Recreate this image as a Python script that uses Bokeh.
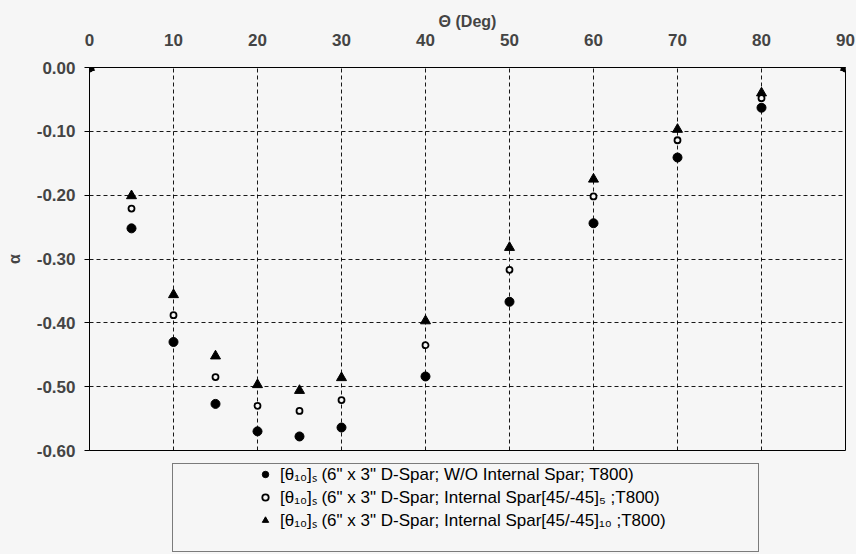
from bokeh.plotting import figure
from bokeh.layouts import column
from bokeh.models import (FixedTicker, NumeralTickFormatter, Range1d, Legend, LegendItem)
from bokeh.embed import file_html
from bokeh.resources import INLINE

# ---- data ----
theta = [0, 5, 10, 15, 20, 25, 30, 40, 50, 60, 70, 80, 90]
alpha_wo = [0.0, -0.252, -0.430, -0.527, -0.570, -0.578, -0.564, -0.484, -0.367, -0.244, -0.141, -0.063, 0.0]
alpha_is5 = [0.0, -0.221, -0.388, -0.485, -0.530, -0.538, -0.521, -0.435, -0.317, -0.202, -0.114, -0.048, 0.0]
alpha_is10 = [0.0, -0.201, -0.356, -0.452, -0.497, -0.506, -0.486, -0.397, -0.282, -0.175, -0.097, -0.040, 0.0]
x_ticks = [0, 10, 20, 30, 40, 50, 60, 70, 80, 90]
y_ticks = [0.0, -0.1, -0.2, -0.3, -0.4, -0.5, -0.6]
labels = [
    "[θ\u2081\u2080]\u209b (6\" x 3\" D-Spar; W/O Internal Spar; T800)",
    "[θ\u2081\u2080]\u209b (6\" x 3\" D-Spar; Internal Spar[45/-45]\u2085 ;T800)",
    "[θ\u2081\u2080]\u209b (6\" x 3\" D-Spar; Internal Spar[45/-45]\u2081\u2080 ;T800)",
]

BG = "#f6f6f6"
FONT = "Liberation Sans"

p = figure(width=856, height=460, output_backend="svg", toolbar_location=None,
           x_axis_location="above",
           x_range=Range1d(0, 90), y_range=Range1d(-0.6, 0.0),
           min_border_left=89, min_border_right=11, min_border_top=67, min_border_bottom=10,
           background_fill_color=BG, border_fill_color=BG)

p.outline_line_color = "black"
p.outline_line_width = 1

# axes
xa = p.xaxis[0]
xa.ticker = FixedTicker(ticks=x_ticks)
xa.axis_label = "Θ (Deg)"
xa.axis_label_text_font = FONT
xa.axis_label_text_font_style = "bold"
xa.axis_label_text_font_size = "16px"
xa.axis_label_standoff = 1
xa.major_label_text_font = FONT
xa.major_label_text_font_style = "bold"
xa.major_label_text_font_size = "17px"
xa.major_label_standoff = 22
xa.major_tick_out = 0
xa.major_tick_in = 0
xa.minor_tick_out = 0
xa.minor_tick_in = 0
xa.axis_line_color = "black"

ya = p.yaxis[0]
ya.ticker = FixedTicker(ticks=y_ticks)
ya.formatter = NumeralTickFormatter(format="0.00")
ya.axis_label = "α"
ya.axis_label_text_font = FONT
ya.axis_label_text_font_style = "bold"
ya.axis_label_text_font_size = "16px"
ya.axis_label_standoff = 11
ya.major_label_text_font = FONT
ya.major_label_text_font_style = "bold"
ya.major_label_text_font_size = "17px"
ya.major_label_standoff = 9
ya.major_tick_out = 5
ya.major_tick_in = 0
ya.minor_tick_out = 0
ya.minor_tick_in = 0
ya.axis_line_color = "black"

# grid
for g in (p.xgrid[0], p.ygrid[0]):
    g.grid_line_color = "black"
    g.grid_line_dash = "4 3"
    g.grid_line_width = 1
    g.grid_line_alpha = 0.9
p.xgrid[0].ticker = FixedTicker(ticks=x_ticks)
p.ygrid[0].ticker = FixedTicker(ticks=y_ticks)

# data
tri_style = dict(marker="triangle", size=10, fill_color="black", line_color="black")
open_style = dict(marker="circle", size=6, fill_color=BG, line_color="black", line_width=1.8)
fill_style = dict(marker="circle", size=9, fill_color="black", line_color="black")
p.scatter(theta, alpha_is10, **tri_style)
p.scatter(theta, alpha_is5, **open_style)
p.scatter(theta, alpha_wo, **fill_style)

# ---- legend strip below the chart ----
q = figure(width=856, height=94, output_backend="svg", toolbar_location=None,
           x_axis_location=None, y_axis_location=None,
           x_range=Range1d(0, 1), y_range=Range1d(0, 1),
           min_border=0, min_border_left=89, min_border_right=11, min_border_top=0, min_border_bottom=0,
           background_fill_color=BG, border_fill_color=BG)
q.outline_line_color = None
q.xgrid.visible = False
q.ygrid.visible = False

# off-range points: only used to give the legend its glyphs
lt = q.scatter(x=[-5], y=[-5], **tri_style)
lo = q.scatter(x=[-5], y=[-5], **open_style)
lf = q.scatter(x=[-5], y=[-5], **fill_style)
dummy = q.scatter(x=[-5], y=[-5], marker="circle", size=1, fill_alpha=0, line_alpha=0)

box = Legend(items=[LegendItem(label=" ", renderers=[dummy])], location=(83, 2),
             padding=0, margin=0, spacing=0, glyph_width=20, glyph_height=87,
             label_width=565, label_height=87, label_standoff=0,
             border_line_color="black", border_line_width=1,
             background_fill_color=BG, background_fill_alpha=1.0)
q.add_layout(box, "center")

leg = Legend(items=[LegendItem(label=labels[0], renderers=[lf]),
                    LegendItem(label=labels[1], renderers=[lo]),
                    LegendItem(label=labels[2], renderers=[lt])],
             location=(168, 23), padding=0, margin=0, spacing=0,
             glyph_width=16, glyph_height=22, label_height=22, label_standoff=7,
             label_text_font=FONT, label_text_font_size="17px", label_text_color="black",
             border_line_alpha=0, background_fill_alpha=0)
q.add_layout(leg, "center")

layout = column(p, q, spacing=0, styles={"background-color": BG})
open("out.html", "w").write(file_html(layout, INLINE))
